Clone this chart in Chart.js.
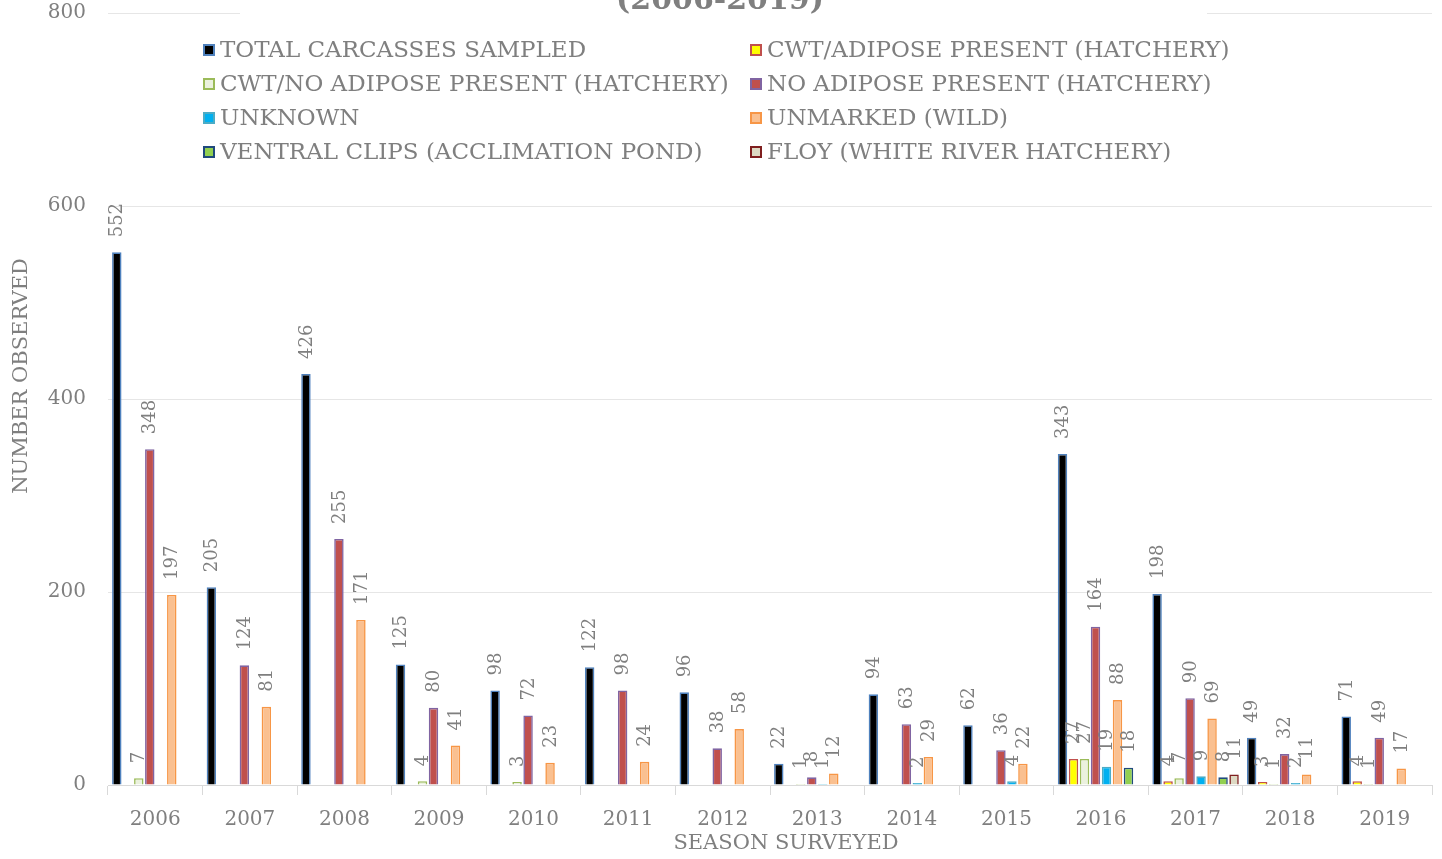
<!DOCTYPE html>
<html><head><meta charset="utf-8">
<script src="https://cdn.jsdelivr.net/npm/chart.js@4.4.0/dist/chart.umd.min.js"></script>
<style>html,body{margin:0;padding:0;background:#fff;}#wrap{width:1442px;height:859px;position:relative;}</style>
</head><body><div id="wrap"><canvas id="c"></canvas></div>
<script>
const seasons = ['2006','2007','2008','2009','2010','2011','2012','2013','2014','2015','2016','2017','2018','2019'];
const totalCarcasses = [552,205,426,125,98,122,96,22,94,62,343,198,49,71];
const cwtAdipose = [null,null,null,null,null,null,null,null,null,null,27,4,3,4];
const cwtNoAdipose = [7,null,null,4,3,null,null,1,null,null,27,7,1,1];
const noAdipose = [348,124,255,80,72,98,38,8,63,36,164,90,32,49];
const unknown = [null,null,null,null,null,null,null,1,2,4,19,9,2,null];
const unmarked = [197,81,171,41,23,24,58,12,29,22,88,69,11,17];
const ventralClips = [null,null,null,null,null,null,null,null,null,null,18,8,null,null];
const floy = [null,null,null,null,null,null,null,null,null,null,null,11,null,null];
const yTickValues = [0,200,400,600,800];

const FONT = '"DejaVu Serif", serif';
const GRAY = '#7f7f7f';

const seriesDefs = [
  ['TOTAL CARCASSES SAMPLED', totalCarcasses, '#000000', '#4f81bd'],
  ['CWT/ADIPOSE PRESENT (HATCHERY)', cwtAdipose, '#ffff00', '#c0504d'],
  ['CWT/NO ADIPOSE PRESENT (HATCHERY)', cwtNoAdipose, '#ebf1de', '#9bbb59'],
  ['NO ADIPOSE PRESENT (HATCHERY)', noAdipose, '#c0504d', '#8064a2'],
  ['UNKNOWN', unknown, '#00b0f0', '#4bacc6'],
  ['UNMARKED (WILD)', unmarked, '#fac090', '#f79646'],
  ['VENTRAL CLIPS (ACCLIMATION POND)', ventralClips, '#92d050', '#1f497d'],
  ['FLOY (WHITE RIVER HATCHERY)', floy, '#ddd9c3', '#7f1f1f']
];

const datasets = seriesDefs.map(([label, data, fill, border]) => ({
  label, data, backgroundColor: fill, borderColor: border, borderWidth: 1.6,
  categoryPercentage: 0.93, barPercentage: 0.86
}));

const decorPlugin = {
  id: 'decor',
  afterDatasetsDraw(chart) {
    const ctx = chart.ctx;
    ctx.save();
    ctx.font = '18px ' + FONT;
    ctx.fillStyle = GRAY;
    ctx.textAlign = 'left';
    ctx.textBaseline = 'middle';
    chart.data.datasets.forEach((ds, di) => {
      const meta = chart.getDatasetMeta(di);
      meta.data.forEach((bar, i) => {
        const v = ds.data[i];
        if (v === null || v === undefined) return;
        ctx.save();
        ctx.translate(bar.x + 1, bar.y - 15);
        ctx.rotate(-Math.PI / 2);
        ctx.fillText(String(v), 0, 0);
        ctx.restore();
      });
    });
    ctx.restore();
  },
  afterDraw(chart) {
    const ctx = chart.ctx;
    ctx.save();
    ctx.fillStyle = '#ffffff';
    ctx.fillRect(240, 0, 967, 26);
    ctx.fillStyle = GRAY;
    ctx.font = 'bold 30px ' + FONT;
    ctx.textAlign = 'center';
    ctx.textBaseline = 'alphabetic';
    ctx.fillText('(2006-2019)', 720, 9);
    const colX = [203, 750];
    const rowY = [50, 84, 118, 152];
    ctx.font = '23px ' + FONT;
    ctx.textAlign = 'left';
    ctx.textBaseline = 'middle';
    chart.data.datasets.forEach((ds, i) => {
      const x = colX[i % 2], y = rowY[Math.floor(i / 2)];
      ctx.fillStyle = ds.backgroundColor;
      ctx.fillRect(x, y - 6, 12, 12);
      ctx.strokeStyle = ds.borderColor;
      ctx.lineWidth = 2;
      ctx.strokeRect(x + 1, y - 5, 10, 10);
      ctx.fillStyle = GRAY;
      ctx.fillText(ds.label, x + 17, y + 1);
    });
    ctx.font = '21px ' + FONT;
    ctx.textAlign = 'center';
    ctx.fillText('SEASON SURVEYED', 786, 844);
    ctx.save();
    ctx.translate(22, 376);
    ctx.rotate(-Math.PI / 2);
    ctx.fillText('NUMBER OBSERVED', 0, 0);
    ctx.restore();
    ctx.restore();
  }
};

new Chart(document.getElementById('c'), {
  type: 'bar',
  data: { labels: seasons, datasets },
  options: {
    responsive: true,
    maintainAspectRatio: false,
    animation: false,
    layout: { padding: { top: 13, right: 10, left: 0, bottom: 0 } },
    plugins: { legend: { display: false }, title: { display: false }, tooltip: { enabled: false } },
    scales: {
      x: {
        grid: { offset: true, drawOnChartArea: false, drawTicks: true, tickLength: 10, color: '#d9d9d9' },
        border: { display: true, color: '#d9d9d9', width: 1 },
        ticks: { color: GRAY, font: { family: FONT, size: 20 }, maxRotation: 0, autoSkip: false, padding: 13 },
        afterFit(scale) { scale.height = 74; scale.paddingLeft = 0; scale.paddingRight = 0; }
      },
      y: {
        min: 0, max: 800,
        afterBuildTicks(scale) { scale.ticks = yTickValues.map(v => ({ value: v })); },
        grid: { color: '#e6e6e6', drawTicks: false },
        border: { display: false },
        ticks: { color: GRAY, font: { family: FONT, size: 20 }, padding: 22 },
        afterFit(scale) { scale.width = 108; scale.paddingTop = 0; scale.paddingBottom = 0; }
      }
    }
  },
  plugins: [decorPlugin]
});
</script></body></html>
